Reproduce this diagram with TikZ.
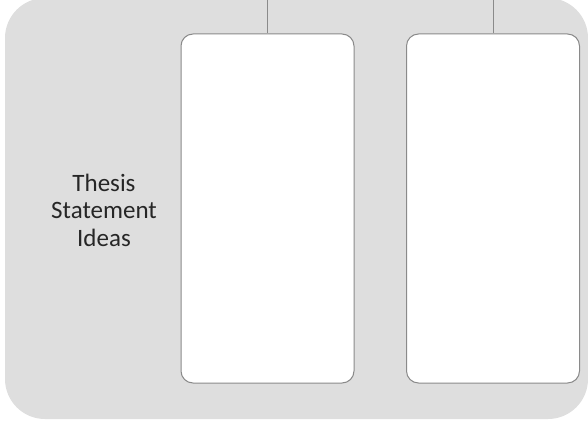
\documentclass[tikz,border=0pt]{standalone}
\usepackage{fontspec}
\setmainfont{Carlito}
\usetikzlibrary{positioning}
\definecolor{panelgray}{HTML}{DEDEDE}
\definecolor{edgegray}{HTML}{8A8A8A}
\definecolor{textgray}{HTML}{262626}
\begin{document}
\begin{tikzpicture}[x=1pt, y=-1pt,
    panel/.style={fill=panelgray, rounded corners=40pt},
    idea/.style={rectangle, draw=edgegray, fill=white, rounded corners=12pt, minimum width=173pt, minimum height=349pt, line width=1pt},
    link/.style={draw=edgegray, line width=1pt}
]
\useasboundingbox (0,0) rectangle (588,422);

% background panel
\fill[panel] (5,-2) rectangle (588,419);

% idea boxes
\node[idea] (box1) at (267.5,208.5) {};
\node[idea] (box2) at (493,208.5) {};

% connectors from the top
\coordinate (top1) at (267.5,0);
\coordinate (top2) at (493,0);
\draw[link] (top1) -- (box1.north);
\draw[link] (top2) -- (box2.north);

% label
\node[align=center, font=\fontsize{25}{27.5}\selectfont, text=textgray] (label) at (104,210) {Thesis\\Statement\\Ideas};
\end{tikzpicture}
\end{document}
